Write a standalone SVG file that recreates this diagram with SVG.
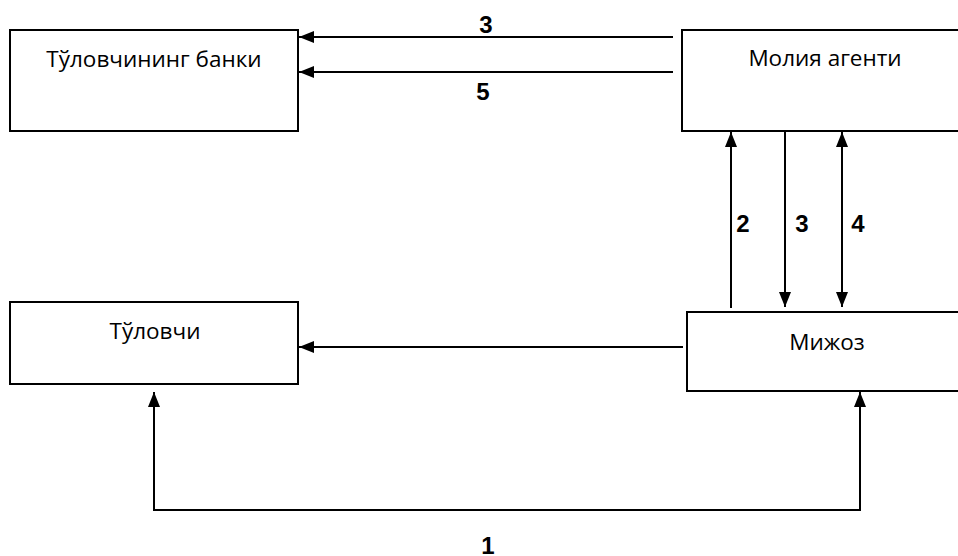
<svg xmlns="http://www.w3.org/2000/svg" width="958" height="556" viewBox="0 0 958 556">
<style>
.box{fill:#fff;stroke:#000;stroke-width:2}
.lbl{font-family:"Open Sans","Liberation Sans",sans-serif;font-size:22.5px;fill:#000;text-anchor:middle}
.num{font-family:"Liberation Sans",Arial,sans-serif;font-size:24px;font-weight:bold;fill:#000;text-anchor:middle}
.ln{fill:none;stroke:#000;stroke-width:2}
</style>
<defs>
<marker id="ah" markerUnits="userSpaceOnUse" markerWidth="16" markerHeight="14" refX="15" refY="6" orient="auto-start-reverse" viewBox="0 0 16 12">
<path d="M0,0 L15,6 L0,12 Z" fill="#000"/>
</marker>
</defs>
<rect width="958" height="556" fill="#fff"/>
<g id="bank">
<rect class="box" x="10" y="30" width="288" height="101"/>
<text class="lbl" x="154" y="67">Тўловчининг банки</text>
</g>
<g id="agent">
<rect class="box" x="682" y="30" width="290" height="101"/>
<text class="lbl" x="825" y="66">Молия агенти</text>
</g>
<g id="payer">
<rect class="box" x="10" y="302" width="288" height="82"/>
<text class="lbl" x="155" y="339">Тўловчи</text>
</g>
<g id="client">
<rect class="box" x="687" y="312" width="290" height="79"/>
<text class="lbl" x="827" y="350">Мижоз</text>
</g>
<g id="connectors">
<line class="ln" x1="673" y1="37" x2="299" y2="37" marker-end="url(#ah)"/>
<line class="ln" x1="673" y1="72" x2="299" y2="72" marker-end="url(#ah)"/>
<line class="ln" x1="683" y1="347" x2="299" y2="347" marker-end="url(#ah)"/>
<line class="ln" x1="731" y1="308" x2="731" y2="132" marker-end="url(#ah)"/>
<line class="ln" x1="785" y1="131" x2="785" y2="307" marker-end="url(#ah)"/>
<line class="ln" x1="842" y1="132" x2="842" y2="307" marker-start="url(#ah)" marker-end="url(#ah)"/>
<path class="ln" d="M154,392 V510 H860 V392" marker-start="url(#ah)" marker-end="url(#ah)"/>
<text class="num" x="486" y="33">3</text>
<text class="num" x="483" y="100">5</text>
<text class="num" x="743" y="232">2</text>
<text class="num" x="802" y="232">3</text>
<text class="num" x="858" y="232">4</text>
<text class="num" x="488" y="554">1</text>
</g>
</svg>
